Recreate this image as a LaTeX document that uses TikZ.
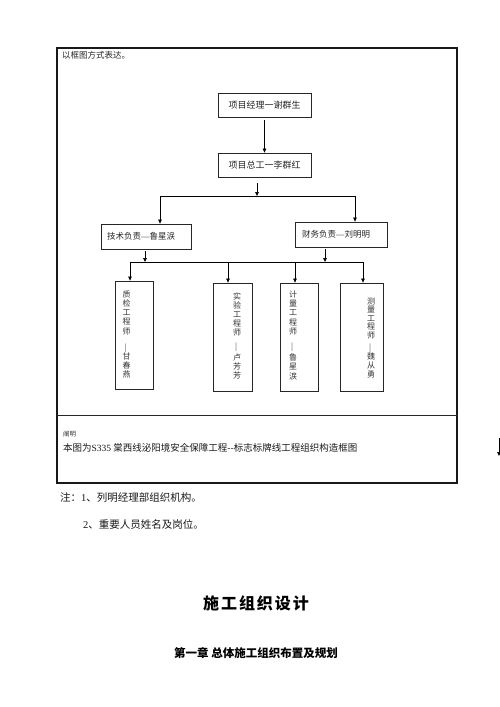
\documentclass[tikz,border=0pt]{standalone}
\usepackage{fontspec}
\usepackage{graphicx}
\setmainfont{Liberation Serif}
\newfontfamily\cjk{Noto Sans CJK SC}
\usetikzlibrary{arrows.meta}
\newcommand{\emd}{{\rmfamily —}}
\begin{document}
\begin{tikzpicture}[x=1pt,y=-1pt,
  box/.style={draw=black!85,line width=0.8pt,inner sep=0pt},
  arr/.style={draw=black,line width=0.7pt,-{Triangle[length=4pt,width=3.6pt]}},
  ln/.style={draw=black,line width=0.7pt},
  small/.style={font=\cjk\fontsize{8.5}{10}\selectfont,text=black!85},
  vtext/.style={font=\cjk\fontsize{8}{9.2}\selectfont,text=black!80,inner sep=0pt,align=center,anchor=north},
  vdash/.style={font=\fontsize{8.5}{9}\selectfont,text=black!80,inner sep=0pt}]
\useasboundingbox (0,0) rectangle (500,707);
% outer frame
\node[draw=black!90,line width=1.2pt,minimum width=400pt,minimum height=435pt,inner sep=0pt] (frame) at (257,265.5) {};
\coordinate (dl) at (57,415);
\draw[line width=0.8pt,black!85] (dl) -- (dl -| frame.east);
\node[small,anchor=west,inner sep=0pt] (intro) at (62,55) {以框图方式表达。};
% top boxes
\node[box,minimum width=93pt,minimum height=24pt,font=\cjk\fontsize{9}{10}\selectfont,text=black!85] (pm) at (264.5,105) {项目经理一谢群生};
\node[box,minimum width=93pt,minimum height=24pt,font=\cjk\fontsize{9}{10}\selectfont,text=black!85] (ce) at (264.5,165) {项目总工一李群红};
\draw[arr] ([yshift=-3pt]pm.south) -- (ce.north);
\coordinate (j1) at (257,196);
\draw[arr] ([yshift=-6pt]j1 |- ce.south) -- (j1);
\coordinate (hl) at (160,196);
\coordinate (hr) at (355,196);
\draw[ln] (hl) -- (hr);
% second level
\node[box,small,minimum width=90pt,minimum height=25pt,text width=78pt,align=left] (tech) at (146,236.5) {技术负责\emd 鲁星涙};
\node[box,small,minimum width=92pt,minimum height=25pt,text width=78pt,align=left] (fin) at (341,234.5) {财务负责\emd 刘明明};
\draw[arr] (hl) -- (hl |- tech.north);
\draw[arr] (hr) -- (hr |- fin.north);
\coordinate (j2) at (145,262);
\coordinate (j3) at (325,262);
\draw[arr] ([yshift=-2pt]j2 |- tech.south) -- (j2);
\draw[arr] ([yshift=-2pt]j3 |- fin.south) -- (j3);
\coordinate (hl2) at (130,262);
\coordinate (m2) at (228,262);
\coordinate (m3) at (295,262);
\coordinate (hr2) at (363,262);
\draw[ln] (hl2) -- (hr2);
% third level boxes
\node[box,minimum width=38pt,minimum height=108pt] (q1) at (134,335) {};
\node[box,minimum width=39pt,minimum height=108pt] (q2) at (232.5,337) {};
\node[box,minimum width=38pt,minimum height=108pt] (q3) at (299,337) {};
\node[box,minimum width=43pt,minimum height=108pt] (q4) at (361.5,337) {};
\draw[arr] (hl2) -- (hl2 |- q1.north);
\draw[arr] (m2) -- (m2 |- q2.north);
\draw[arr] (m3) -- (m3 |- q3.north);
\draw[arr] (hr2) -- (hr2 |- q4.north);
% vertical texts
\node[vtext] (q1a) at (126.5,290.5) {质\\检\\工\\程\\师};
\node[vdash] (q1d) at (126.5,348) {\rotatebox{90}{—}};
\node[vtext] (q1b) at (126.5,352.5) {甘\\春\\燕};
\node[vtext,font=\cjk\fontsize{8}{9}\selectfont] (q2a) at (237,292.5) {实\\验\\工\\程\\师};
\node[vdash] (q2d) at (237,347) {\rotatebox{90}{—}};
\node[vtext] (q2b) at (237,353.5) {卢\\芳\\芳};
\node[vtext] (q3a) at (293,290.5) {计\\量\\工\\程\\师};
\node[vdash] (q3d) at (293,347) {\rotatebox{90}{—}};
\node[vtext,font=\cjk\fontsize{8}{9.5}\selectfont] (q3b) at (293,353.5) {鲁\\星\\涙};
\node[vtext,font=\cjk\fontsize{8}{8.5}\selectfont] (q4a) at (371,297.5) {测\\量\\工\\程\\师};
\node[vdash] (q4d) at (371,348) {\rotatebox{90}{—}};
\node[vtext] (q4b) at (371,352.5) {魏\\从\\勇};
% stray arrow at right edge
\coordinate (sa) at (499,438);
\coordinate (sb) at (499,456);
\draw[arr] (sa) -- (sb);
% caption area
\node[anchor=west,inner sep=0pt,font=\cjk\fontsize{6.5}{7}\selectfont,text=black!80] (expl) at (63,434) {阐明};
\node[anchor=west,inner sep=0pt,font=\cjk\fontsize{9.5}{11}\selectfont,text=black!90] (cap) at (63,448) {本图为{\rmfamily S335} 棠西线泌阳境安全保障工程--标志标牌线工程组织构造框图};
% notes
\node[anchor=west,inner sep=0pt,font=\cjk\fontsize{10.5}{12}\selectfont,text=black!90] (n1) at (60,498) {注：{\rmfamily 1}、列明经理部组织机构。};
\node[anchor=west,inner sep=0pt,font=\cjk\fontsize{10.5}{12}\selectfont,text=black!90] (n2) at (83,524) {{\rmfamily 2}、重要人员姓名及岗位。};
% headings
\node[inner sep=0pt,font=\cjk\bfseries\fontsize{16}{18}\selectfont\addfontfeature{LetterSpace=12}] (title) at (256,603) {施工组织设计};
\node[inner sep=0pt,font=\cjk\bfseries\fontsize{11.5}{13}\selectfont] (chap) at (256,653) {第一章 总体施工组织布置及规划};
\end{tikzpicture}
\end{document}
